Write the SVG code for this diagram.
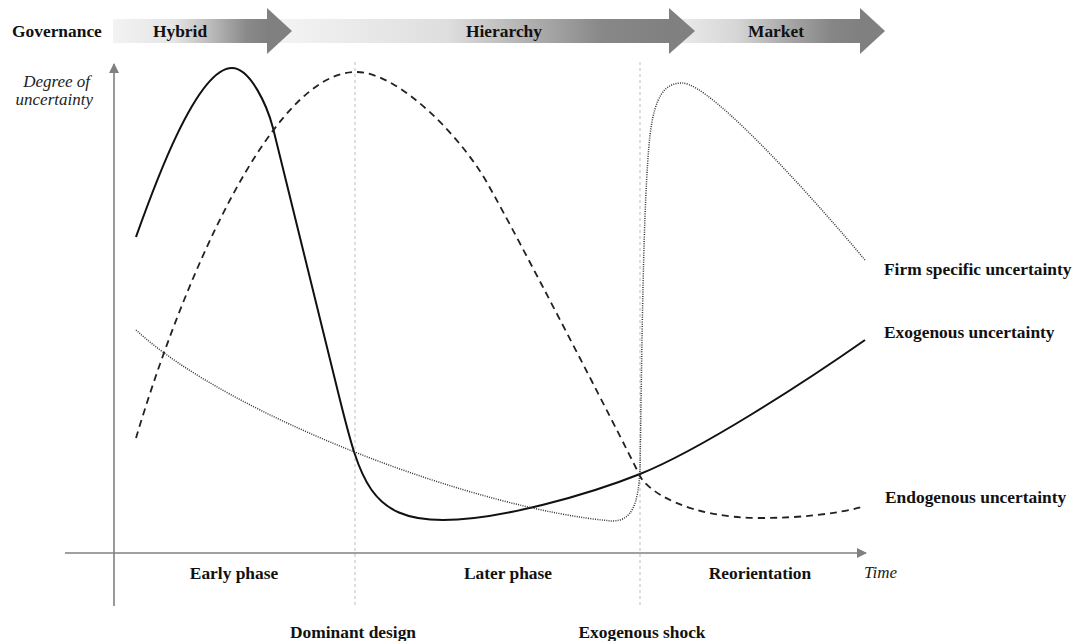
<svg xmlns="http://www.w3.org/2000/svg" width="1072" height="641" viewBox="0 0 1072 641">
<defs>
<style>
.lbl{font-family:"Liberation Serif","Times New Roman",serif;font-weight:bold;font-size:17.4px;fill:#111}
.ital{font-family:"Liberation Serif","Times New Roman",serif;font-style:italic;font-size:17px;fill:#222}
.axis{stroke:#808080;stroke-width:1.6;fill:none}
.guide{stroke:#bdbdbd;stroke-width:1;stroke-dasharray:3 3;fill:none}
.solid{stroke:#111;stroke-width:2;fill:none}
.dash{stroke:#222;stroke-width:1.8;stroke-dasharray:7 5;fill:none}
.dot{stroke:#333;stroke-width:1.5;stroke-dasharray:1 1.3;fill:none}
.head{fill:#808080}
</style>
<linearGradient id="gHy" x1="0" y1="0" x2="1" y2="0">
<stop offset="0" stop-color="#f3f3f3"/><stop offset="0.4" stop-color="#e4e4e4"/><stop offset="0.62" stop-color="#bdbdbd"/><stop offset="0.86" stop-color="#8a8a8a"/><stop offset="1" stop-color="#808080"/>
</linearGradient>
<linearGradient id="gHi" x1="0" y1="0" x2="1" y2="0">
<stop offset="0" stop-color="#f5f5f5"/><stop offset="0.45" stop-color="#dedede"/><stop offset="0.65" stop-color="#b0b0b0"/><stop offset="0.83" stop-color="#888888"/><stop offset="1" stop-color="#808080"/>
</linearGradient>
<linearGradient id="gMa" x1="0" y1="0" x2="1" y2="0">
<stop offset="0" stop-color="#eeeeee"/><stop offset="0.35" stop-color="#d6d6d6"/><stop offset="0.6" stop-color="#ababab"/><stop offset="0.85" stop-color="#868686"/><stop offset="1" stop-color="#808080"/>
</linearGradient>
<marker id="ah" viewBox="0 0 10 10" refX="9" refY="5" markerWidth="10" markerHeight="10" markerUnits="userSpaceOnUse" orient="auto">
<path d="M0,0 L10,5 L0,10 Z" fill="#808080"/>
</marker>
</defs>

<g id="governance">
<text class="lbl" x="12" y="37">Governance</text>
</g>
<g id="market">
<rect x="670" y="19" width="190" height="24" fill="url(#gMa)"/>
<path class="head" d="M860,8 L885,31 L860,54 Z"/>
<text class="lbl" x="776" y="37" text-anchor="middle">Market</text>
</g>
<g id="hierarchy">
<rect x="267" y="19" width="403" height="24" fill="url(#gHi)"/>
<path class="head" d="M669,8 L695,31 L669,54 Z"/>
<text class="lbl" x="504" y="37" text-anchor="middle">Hierarchy</text>
</g>
<g id="hybrid">
<rect x="113" y="19" width="155" height="24" fill="url(#gHy)"/>
<path class="head" d="M267,8 L292,31 L267,54 Z"/>
<text class="lbl" x="180" y="37" text-anchor="middle">Hybrid</text>
</g>

<g id="axes">
<line class="guide" x1="355" y1="62" x2="355" y2="606"/>
<line class="guide" x1="640" y1="62" x2="640" y2="606"/>
<line class="axis" x1="114" y1="606" x2="114" y2="64" marker-end="url(#ah)"/>
<line class="axis" x1="65" y1="553" x2="866" y2="553" marker-end="url(#ah)"/>
<text class="ital" x="90" y="87" text-anchor="end">Degree of</text>
<text class="ital" x="93" y="105" text-anchor="end">uncertainty</text>
<text class="ital" x="864" y="578">Time</text>
</g>

<g id="connectors">
<path id="exogenous-curve" class="solid" d="M136,237 C152,192 196,68 232,68 C250,68 267,105 273,128 L340,400 C360,480 370,520 443,520 C500,520 590,494 640,474 C700,450 805,382 865,340"/>
<path id="endogenous-curve" class="dash" d="M136,438 C180,290 270,72 356,72 C400,72 465,141 490,188 C515,232 615,425 640,476 C648,492 690,518 760,518 C800,518 835,514 862,507"/>
<path id="firm-curve" class="dot" d="M136,330 C230,417 480,510 612,521 C632,521 638,505 640,470 C642,350 643,200 650,135 C655,95 665,83 682,83 C712,83 825,212 865,260"/>
</g>

<g id="curve-labels">
<text class="lbl" x="884" y="275">Firm specific uncertainty</text>
<text class="lbl" x="884" y="338">Exogenous uncertainty</text>
<text class="lbl" x="885" y="503">Endogenous uncertainty</text>
</g>

<g id="phases">
<text class="lbl" x="234" y="579" text-anchor="middle">Early phase</text>
<text class="lbl" x="508" y="579" text-anchor="middle">Later phase</text>
<text class="lbl" x="760" y="579" text-anchor="middle">Reorientation</text>
</g>

<g id="events">
<text class="lbl" x="353" y="638" text-anchor="middle">Dominant design</text>
<text class="lbl" x="642" y="638" text-anchor="middle">Exogenous shock</text>
</g>
</svg>
